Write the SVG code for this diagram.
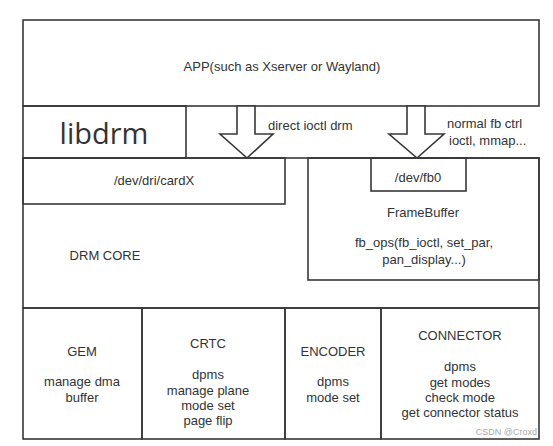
<svg xmlns="http://www.w3.org/2000/svg" width="553" height="446" viewBox="0 0 553 446">
<style>
.b{fill:none;stroke:#383838;stroke-width:1.6}
.a{fill:#fff;stroke:#383838;stroke-width:1.6;stroke-linejoin:miter}
text{font-family:"Liberation Sans",Arial,sans-serif;font-size:13px;fill:#333;text-anchor:middle}
.s{text-anchor:start}
</style>
<rect width="553" height="446" fill="#fff"/>
<g id="app"><rect class="b" x="23" y="20" width="516" height="86"/><text x="282" y="71">APP(such as Xserver or Wayland)</text></g>
<g id="libdrm"><rect class="b" x="23" y="106" width="163" height="52"/><text x="104" y="144" style="font-size:29px;font-family:'Open Sans',sans-serif">libdrm</text></g>
<g id="drmcore"><rect class="b" x="23" y="158" width="516" height="150"/><text x="105" y="260">DRM CORE</text></g>
<g id="cardx"><rect class="b" x="23" y="158" width="262" height="46"/><text x="154" y="185">/dev/dri/cardX</text></g>
<g id="framebuffer"><rect class="b" x="308" y="158" width="231" height="122"/><text x="423" y="217">FrameBuffer</text><text x="424" y="247">fb_ops(fb_ioctl, set_par,</text><text x="424" y="264">pan_display...)</text></g>
<g id="fb0"><rect class="b" x="371" y="158" width="95" height="33"/><text x="418" y="182">/dev/fb0</text></g>
<g id="gem"><rect class="b" x="23" y="308" width="119" height="131"/><text x="82" y="356">GEM</text><text x="82" y="386">manage dma</text><text x="82" y="402">buffer</text></g>
<g id="crtc"><rect class="b" x="142" y="308" width="143" height="131"/><text x="208" y="348">CRTC</text><text x="208" y="379">dpms</text><text x="208" y="395">manage plane</text><text x="208" y="410">mode set</text><text x="208" y="425">page flip</text></g>
<g id="encoder"><rect class="b" x="285" y="308" width="96" height="131"/><text x="333" y="356">ENCODER</text><text x="333" y="386">dpms</text><text x="333" y="402">mode set</text></g>
<g id="connector"><rect class="b" x="381" y="308" width="158" height="131"/><text x="460" y="340">CONNECTOR</text><text x="460" y="371">dpms</text><text x="460" y="387">get modes</text><text x="460" y="402">check mode</text><text x="460" y="417">get connector status</text></g>
<g id="connectors">
<polygon class="a" points="237,106 255,106 255,134 273,134 247,158 220,134 237,134"/>
<polygon class="a" points="407,106 425,106 425,134 444,134 417,158 389,134 407,134"/>
<text class="s" x="268" y="130">direct ioctl drm</text>
<text class="s" x="447" y="128">normal fb ctrl</text>
<text class="s" x="449" y="145">ioctl, mmap...</text>
</g>
<text x="537" y="435" style="font-size:9px;fill:#aaa;text-anchor:end">CSDN @Croxd</text>
</svg>
